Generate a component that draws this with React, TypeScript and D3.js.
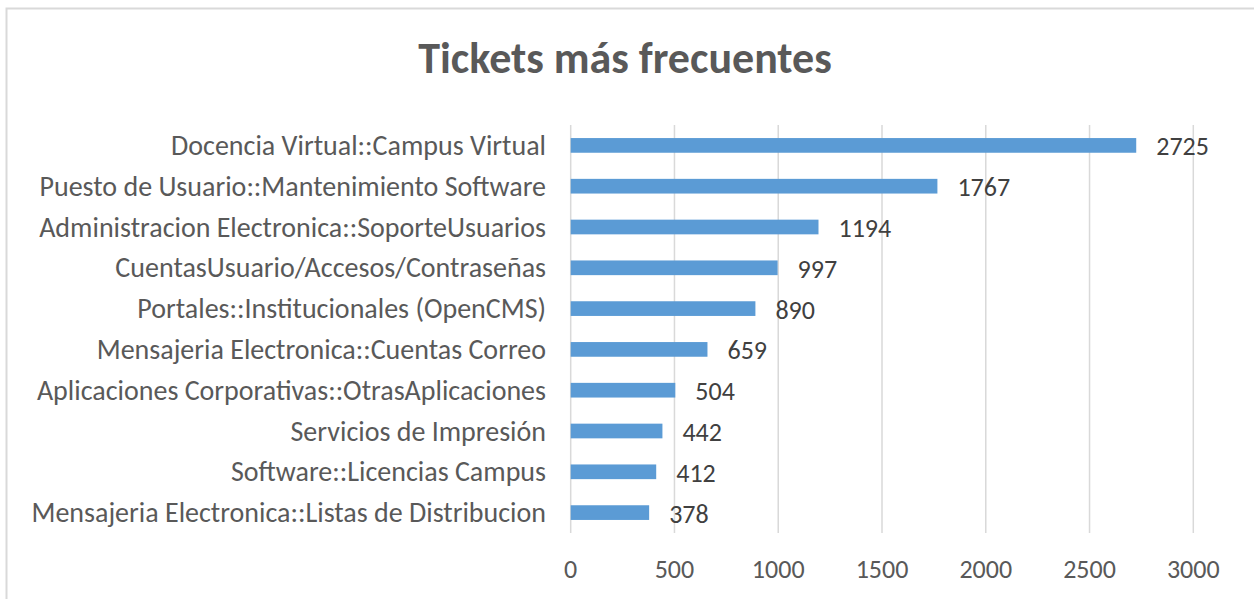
import React from "react";
import * as d3 from "d3";

const categories = [
  "Docencia Virtual::Campus Virtual",
  "Puesto de Usuario::Mantenimiento Software",
  "Administracion Electronica::SoporteUsuarios",
  "CuentasUsuario/Accesos/Contraseñas",
  "Portales::Institucionales (OpenCMS)",
  "Mensajeria Electronica::Cuentas Correo",
  "Aplicaciones Corporativas::OtrasAplicaciones",
  "Servicios de Impresión",
  "Software::Licencias Campus",
  "Mensajeria Electronica::Listas de Distribucion",
];
const values = [2725, 1767, 1194, 997, 890, 659, 504, 442, 412, 378];
const xTicks = [0, 500, 1000, 1500, 2000, 2500, 3000];
const title = "Tickets más frecuentes";

const W = 1254;
const H = 599;
const FONT = "Carlito, 'Open Sans', sans-serif";

export default function App() {
  const x = d3.scaleLinear().domain([0, 3000]).range([570.7, 1193.3]);
  const y = d3
    .scaleBand<string>()
    .domain(categories)
    .range([125, 533])
    .paddingInner(0.64)
    .paddingOuter(0.32);
  const top = 125;
  const bottom = 533;
  return (
    <div style={{ position: "absolute", left: 0, top: 0 }}>
      <svg width={W} height={H} style={{ display: "block" }}>
        <rect x={0} y={0} width={W} height={H} fill="#ffffff" />
        <rect x={6.5} y={8.5} width={W + 20} height={H + 20} fill="none" stroke="#d9d9d9" strokeWidth={2} />
        <text
          x={625}
          y={73}
          textAnchor="middle"
          fontFamily={FONT}
          fontWeight="bold"
          fontSize={44}
          fill="#595959"
        >
          {title}
        </text>
        {xTicks.map((t) => (
          <line key={"g" + t} x1={x(t)} x2={x(t)} y1={top} y2={bottom} stroke="#d9d9d9" strokeWidth={1.5} />
        ))}
        {xTicks.map((t) => (
          <text
            key={"t" + t}
            x={x(t)}
            y={569}
            textAnchor="middle"
            dominantBaseline="central"
            fontFamily={FONT}
            fontSize={26}
            fill="#595959"
          >
            {t}
          </text>
        ))}
        {categories.map((c, i) => {
          const by = y(c)!;
          const bh = y.bandwidth();
          return (
            <g key={c}>
              <rect x={x(0)} y={by} width={x(values[i]) - x(0)} height={bh} fill="#5b9bd5" />
              <text
                x={546}
                y={by + bh / 2}
                textAnchor="end"
                dominantBaseline="central"
                fontFamily={FONT}
                fontSize={28}
                fill="#595959"
              >
                {c}
              </text>
              <text
                x={x(values[i]) + 20}
                y={by + bh / 2 + 1}
                dominantBaseline="central"
                fontFamily={FONT}
                fontSize={26}
                fill="#404040"
              >
                {values[i]}
              </text>
            </g>
          );
        })}
      </svg>
    </div>
  );
}
